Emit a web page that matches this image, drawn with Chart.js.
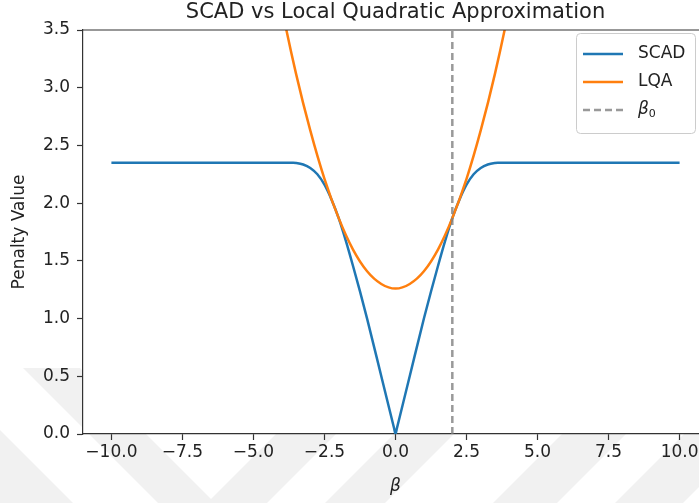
<!DOCTYPE html>
<html>
<head>
<meta charset="utf-8">
<script src="https://cdn.jsdelivr.net/npm/chart.js@4.4.0/dist/chart.umd.min.js"></script>
<style>
  html, body { margin: 0; padding: 0; background: #fff; overflow: hidden; }
  #wrap { width: 699px; height: 503px; overflow: hidden; }
</style>
</head>
<body>
<div id="wrap"><canvas id="penalty-chart" width="712" height="503"></canvas></div>
<script>
// SCAD penalty sampled along beta
const scadBeta = [-10, -3.6, -3.5, -3.25, -3, -2.75, -2.5, -2.25, -2, -1.75, -1.5, -1.25, -1, -0.5, -0.05, 0,
                  0.05, 0.5, 1, 1.25, 1.5, 1.75, 2, 2.25, 2.5, 2.75, 3, 3.25, 3.5, 3.6, 10];
const scadValue = [2.35, 2.35, 2.348, 2.335, 2.305, 2.25, 2.16, 2.03, 1.87, 1.675, 1.46, 1.235, 1, 0.5, 0.05, 0,
                   0.05, 0.5, 1, 1.235, 1.46, 1.675, 1.87, 2.03, 2.16, 2.25, 2.305, 2.335, 2.348, 2.35, 2.35];

// local quadratic approximation around beta0
const lqaBeta = [-4.5, -4, -3.5, -3, -2.5, -2, -1.5, -1, -0.5, 0, 0.5, 1, 1.5, 2, 2.5, 3, 3.5, 4, 4.5];
const lqaValue = [4.34, 3.69, 3.12, 2.63, 2.21, 1.87, 1.60, 1.41, 1.30, 1.26, 1.30, 1.41, 1.60, 1.87, 2.21, 2.63, 3.12, 3.69, 4.34];

const beta0 = 2;

const xTicks = [-10, -7.5, -5, -2.5, 0, 2.5, 5, 7.5, 10];
const yTicks = [0, 0.5, 1, 1.5, 2, 2.5, 3, 3.5];

const FONT = 'DejaVu Sans';
const AXIS = '#333333';
const TEXT = '#222222';

Chart.defaults.font.family = FONT;
Chart.defaults.color = TEXT;

const toPoints = (xs, ys) => xs.map((x, i) => ({ x, y: ys[i] }));
const fmt = v => v.toFixed(1).replace('-', '\u2212');

// light background pattern behind the figure, then a white plot area
const background = {
    id: 'background',
    beforeDraw(chart) {
        const { ctx, width, height, chartArea: a } = chart;
        ctx.save();
        ctx.fillStyle = '#ffffff';
        ctx.fillRect(0, 0, width, height);
        ctx.fillStyle = '#f1f1f1';
        const bands = [
            [[23, 368], [80, 368], [215, 503], [158, 503]],
            [[0, 430], [73, 503], [0, 503]],
            [[207, 503], [267, 503], [402, 368], [342, 368]],
            [[325, 503], [385, 503], [520, 368], [460, 368]],
            [[493, 503], [557, 503], [692, 368], [628, 368]],
            [[615, 503], [683, 503], [818, 368], [750, 368]]
        ];
        bands.forEach(b => {
            ctx.beginPath();
            ctx.moveTo(b[0][0], b[0][1]);
            b.slice(1).forEach(p => ctx.lineTo(p[0], p[1]));
            ctx.closePath();
            ctx.fill();
        });
        ctx.fillStyle = '#ffffff';
        ctx.fillRect(a.left, a.top, a.right - a.left, a.bottom - a.top);
        ctx.restore();
    }
};

// title centred over the axes and the top spine
const frame = {
    id: 'frame',
    afterDraw(chart) {
        const { ctx, chartArea: a } = chart;
        ctx.save();
        ctx.strokeStyle = AXIS;
        ctx.lineWidth = 1.2;
        ctx.beginPath();
        ctx.moveTo(a.left, a.top);
        ctx.lineTo(a.right, a.top);
        ctx.stroke();
        ctx.fillStyle = TEXT;
        ctx.font = '21px "' + FONT + '"';
        ctx.textAlign = 'center';
        ctx.textBaseline = 'middle';
        ctx.fillText('SCAD vs Local Quadratic Approximation', (a.left + a.right) / 2, 13);
        ctx.restore();
    }
};

// legend box in the upper right corner of the axes
const boxLegend = {
    id: 'boxLegend',
    afterDraw(chart) {
        const { ctx, chartArea: a } = chart;
        const w = 119, h = 100;
        const x = a.right - 13 - w, y = a.top + 3;
        ctx.save();
        ctx.beginPath();
        ctx.roundRect(x + 0.5, y + 0.5, w, h, 4);
        ctx.fillStyle = 'rgba(255,255,255,0.8)';
        ctx.fill();
        ctx.strokeStyle = '#cccccc';
        ctx.lineWidth = 1;
        ctx.stroke();
        chart.data.datasets.forEach((ds, i) => {
            const rowY = y + 21 + i * 28;
            ctx.beginPath();
            ctx.setLineDash(ds.borderDash || []);
            ctx.strokeStyle = ds.borderColor;
            ctx.lineWidth = ds.borderWidth;
            ctx.moveTo(x + 7, rowY);
            ctx.lineTo(x + 47, rowY);
            ctx.stroke();
            ctx.setLineDash([]);
            ctx.fillStyle = TEXT;
            ctx.textAlign = 'left';
            ctx.textBaseline = 'middle';
            const tx = x + 62;
            if (ds.label.includes('\u2080')) {
                // beta with a subscript zero
                ctx.font = 'italic 17px "' + FONT + '"';
                ctx.fillText('\u03b2', tx, rowY);
                const bw = ctx.measureText('\u03b2').width;
                ctx.font = '11px "' + FONT + '"';
                ctx.fillText('0', tx + bw, rowY + 4);
            } else {
                ctx.font = '17px "' + FONT + '"';
                ctx.fillText(ds.label, tx, rowY);
            }
        });
        ctx.restore();
    }
};

const ctx = document.getElementById('penalty-chart').getContext('2d');
new Chart(ctx, {
    type: 'line',
    data: {
        datasets: [{
            label: 'SCAD',
            data: toPoints(scadBeta, scadValue),
            borderColor: '#1f77b4',
            borderWidth: 2.5,
            cubicInterpolationMode: 'monotone',
            order: 3
        }, {
            label: 'LQA',
            data: toPoints(lqaBeta, lqaValue),
            borderColor: '#ff7f0e',
            borderWidth: 2.5,
            cubicInterpolationMode: 'monotone',
            order: 2
        }, {
            label: 'β\u2080',
            data: [{ x: beta0, y: yTicks[0] }, { x: beta0, y: yTicks[yTicks.length - 1] }],
            borderColor: 'rgba(128,128,128,0.8)',
            borderWidth: 2.5,
            borderDash: [7, 4],
            order: 1
        }]
    },
    options: {
        responsive: false,
        animation: false,
        layout: { padding: { top: 30, right: 4, bottom: 0, left: 0 } },
        elements: { point: { radius: 0, hoverRadius: 0 } },
        plugins: {
            legend: { display: false },
            tooltip: { enabled: false },
            title: { display: false }
        },
        scales: {
            x: {
                type: 'linear',
                min: -11,
                max: 11,
                afterBuildTicks: s => { s.ticks = xTicks.map(v => ({ value: v })); },
                afterFit: s => { s.height = 69; },
                ticks: { callback: v => fmt(v), font: { size: 17 }, color: TEXT, padding: 2, maxRotation: 0 },
                grid: { drawOnChartArea: false, tickLength: 6, tickColor: AXIS, tickWidth: 1.2 },
                border: { display: true, color: AXIS, width: 1.2 },
                title: { display: true, text: 'β', font: { size: 17, style: 'italic' }, color: TEXT, padding: { top: 0, bottom: 6 } }
            },
            y: {
                min: 0,
                max: 3.5,
                afterBuildTicks: s => { s.ticks = yTicks.map(v => ({ value: v })); },
                afterFit: s => { s.width = 83; },
                ticks: { callback: v => fmt(v), font: { size: 17 }, color: TEXT, padding: 7 },
                grid: { drawOnChartArea: false, tickLength: 6, tickColor: AXIS, tickWidth: 1.2 },
                border: { display: true, color: AXIS, width: 1.2 },
                title: { display: true, text: 'Penalty Value', font: { size: 17 }, color: TEXT, padding: { top: 9, bottom: 0 } }
            }
        }
    },
    plugins: [background, frame, boxLegend]
});
</script>
</body>
</html>
